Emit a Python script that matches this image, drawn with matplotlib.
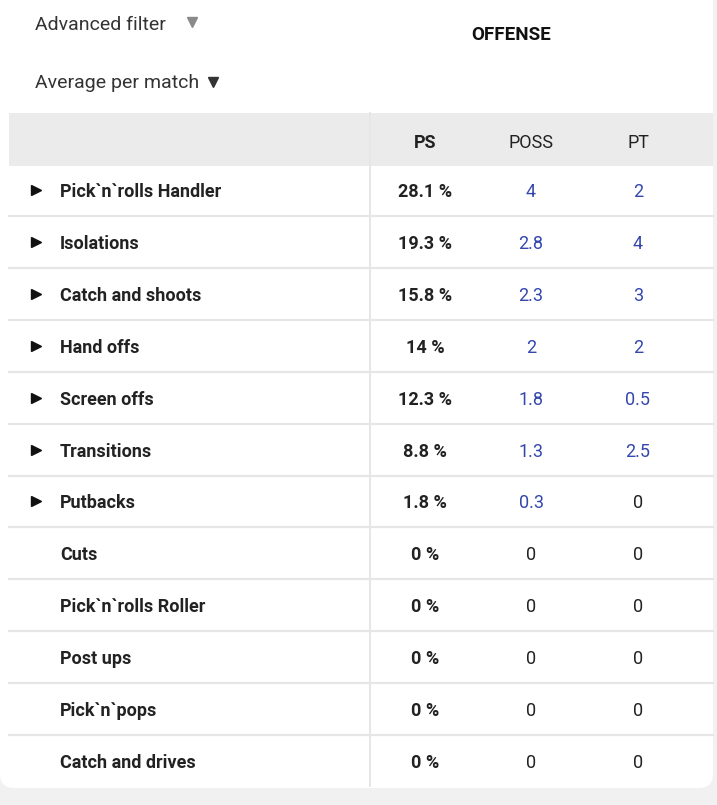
import matplotlib.pyplot as plt
from matplotlib.patches import FancyBboxPatch, Rectangle

# table content
play_types = ["Pick`n`rolls Handler", "Isolations", "Catch and shoots", "Hand offs",
              "Screen offs", "Transitions", "Putbacks", "Cuts", "Pick`n`rolls Roller",
              "Post ups", "Pick`n`pops", "Catch and drives"]
ps_pct = [28.1, 19.3, 15.8, 14, 12.3, 8.8, 1.8, 0, 0, 0, 0, 0]
poss = [4, 2.8, 2.3, 2, 1.8, 1.3, 0.3, 0, 0, 0, 0, 0]
pts = [2, 4, 3, 2, 0.5, 2.5, 0, 0, 0, 0, 0, 0]
columns = ["PS", "POSS", "PT"]

W, H = 717, 805
FONT = "Roboto"
DARK = "#222222"
BLUE = "#3447ad"
GRID = "#e6e6e6"


def fmt(v):
    return f"{v:g}"


def main():
    fig = plt.figure(figsize=(W / 100, H / 100), dpi=100)
    ax = fig.add_axes([0, 0, 1, 1])
    ax.set_xlim(0, W)
    ax.set_ylim(H, 0)
    ax.axis("off")
    fig.patch.set_facecolor("#f1f1f1")

    # white card
    ax.add_patch(FancyBboxPatch((0, -20), 713, 808, boxstyle="round,pad=0,rounding_size=14",
                                facecolor="white", edgecolor="none"))

    # filters + title
    ax.text(35, 25, "Advanced filter", fontsize=14, family=FONT, color="#333333", va="center")
    ax.plot([192], [22], marker="v", ms=6.5, color="#8a8a8a")
    ax.text(35, 83, "Average per match", fontsize=14, family=FONT, color="#333333", va="center")
    ax.plot([213], [82], marker="v", ms=6.5, color="#333333")
    ax.text(511, 35, "OFFENSE", fontsize=13.5, family=FONT, fontweight="bold", color="#111111",
            ha="center", va="center")

    # header band
    ax.add_patch(Rectangle((9, 113), 704, 53, facecolor="#ebebeb", edgecolor="none"))
    col_x = [425, 531, 638]
    for i, c in enumerate(columns):
        ax.text(col_x[i], 143, c, fontsize=13, family=FONT, color=DARK, ha="center", va="center",
                fontweight="bold" if i == 0 else "normal")

    y0, step = 190, 51.9
    for i, name in enumerate(play_types):
        y = y0 + i * step
        if i < len(play_types) - 1:
            ax.plot([9, 713], [y + 26, y + 26], color=GRID, lw=1.6)
        if ps_pct[i] > 0:
            ax.plot([36], [y], marker=">", ms=7, color="#111111")
        ax.text(60, y + 2, name, fontsize=13, family=FONT, fontweight="bold", color=DARK, va="center")
        ax.text(col_x[0], y + 2, f"{fmt(ps_pct[i])} %", fontsize=13, family=FONT, fontweight="bold",
                color=DARK, ha="center", va="center")
        for j, vals in enumerate([poss, pts]):
            v = vals[i]
            ax.text(col_x[j + 1], y + 2, fmt(v), fontsize=13, family=FONT,
                    color=BLUE if v > 0 else DARK, ha="center", va="center")

    # column divider
    ax.plot([370, 370], [113, 786], color=GRID, lw=1.4)

    fig.savefig("out.png", dpi=100, facecolor=fig.get_facecolor())
    plt.close(fig)


if __name__ == "__main__":
    main()
